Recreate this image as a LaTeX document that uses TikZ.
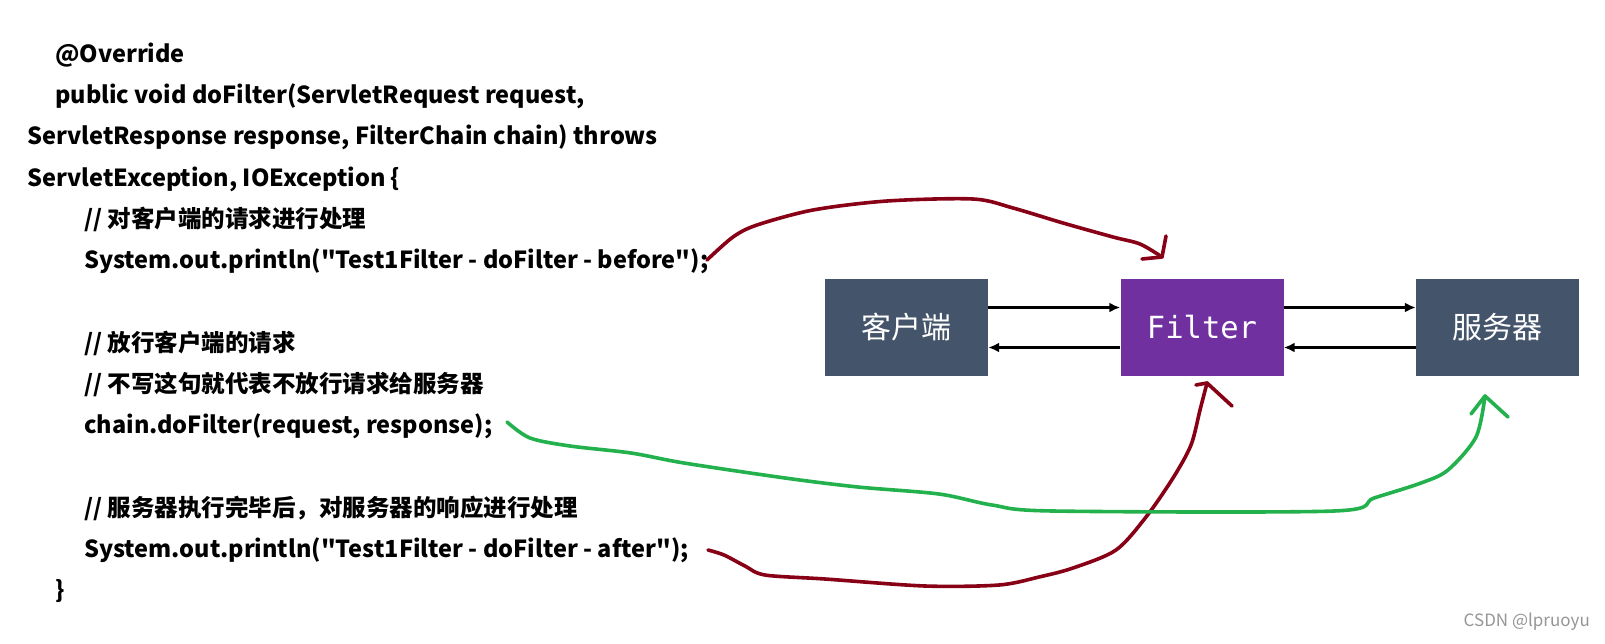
\documentclass[tikz,border=0pt]{standalone}
\usepackage{fontspec}
\usetikzlibrary{arrows.meta}
\newfontfamily\codefont{Noto Sans CJK SC}
\newfontfamily\labelfont{Noto Sans CJK SC}
\newfontfamily\filtermono{DejaVu Sans Mono}
\definecolor{slate}{RGB}{68,84,106}
\definecolor{fpurple}{RGB}{112,48,160}
\definecolor{pred}{RGB}{136,0,21}
\definecolor{pgreen}{RGB}{34,177,76}
\definecolor{wmgray}{RGB}{150,150,150}
\begin{document}
\begin{tikzpicture}[x=1pt,y=-1pt,
  code/.style={anchor=base west,inner sep=0pt,font=\codefont\bfseries\fontsize{23.5}{28}\selectfont},
  box/.style={minimum width=163pt,minimum height=97pt,inner sep=0pt,text=white,draw=none},
  conn/.style={draw=black,line width=2.5pt,-{Latex[length=11pt,width=10pt]}},
  redpen/.style={draw=pred,line width=3.6pt,line cap=round,line join=round},
  greenpen/.style={draw=pgreen,line width=3.6pt,line cap=round,line join=round}]
\useasboundingbox (0,0) rectangle (1605,643);
\fill[white] (0,0) rectangle (1605,643);
% code text
\node[code] (l1) at (55,62) {@Override};
\node[code] (l2) at (55,103) {public void doFilter(ServletRequest request,};
\node[code] (l3) at (27,144) {ServletResponse response, FilterChain chain) throws};
\node[code] (l4) at (27,186) {ServletException, IOException \{};
\node[code] (l5) at (84,227) {// 对客户端的请求进行处理};
\node[code] (l6) at (84,268) {System.out.println("Test1Filter - doFilter - before");};
\node[code] (l7) at (84,351) {// 放行客户端的请求};
\node[code] (l8) at (84,392) {// 不写这句就代表不放行请求给服务器};
\node[code] (l9) at (84,433) {chain.doFilter(request, response);};
\node[code] (l10) at (84,516) {// 服务器执行完毕后，对服务器的响应进行处理};
\node[code] (l11) at (84,557) {System.out.println("Test1Filter - doFilter - after");};
\node[code] (l12) at (55,598) {\}};
% boxes
\node[box,fill=slate,font=\labelfont\fontsize{30}{36}\selectfont] (client) at (906.5,327.5) {客户端};
\node[box,fill=fpurple,font=\filtermono\fontsize{30.5}{36}\selectfont] (filter) at (1202,327.5) {Filter};
\node[box,fill=slate,font=\labelfont\fontsize{30}{36}\selectfont] (server) at (1497.5,327.5) {服务器};
% connectors
\draw[conn] ([yshift=20pt]client.east) -- ([yshift=20pt]filter.west);
\draw[conn] ([yshift=-20pt]filter.west) -- ([yshift=-20pt]client.east);
\draw[conn] ([yshift=20pt]filter.east) -- ([yshift=20pt]server.west);
\draw[conn] ([yshift=-20pt]server.west) -- ([yshift=-20pt]filter.east);
% hand-drawn arrows
\coordinate (r1s) at (707,260);
\coordinate (r1t) at (1162,257);
\draw[redpen] plot[smooth,tension=0.5] coordinates {(r1s) (733,237) (757,225) (813,210) (887,201) (973,199) (1013,208) (1063,223) (1113,237) (1140,244) (r1t)};
\draw[redpen] (1166,236) -- (r1t) -- (1142,259);
\coordinate (r2s) at (708,550);
\coordinate (r2t) at (1207,383);
\draw[redpen] plot[smooth,tension=0.5] coordinates {(r2s) (724,555) (745,566) (765,575) (825,579) (925,586) (999,585) (1039,577) (1073,568) (1116,550) (1146,517) (1173,478) (1191,445) (1200,410) (r2t)};
\draw[redpen] (1196,385) -- (r2t) -- (1232,406);
\coordinate (gs) at (507,422);
\coordinate (gt) at (1485,396);
\draw[greenpen] plot[smooth,tension=0.5] coordinates {(gs) (530,438) (570,446) (631,453) (684,463) (785,478) (858,487) (939,494) (992,505) (1053,511) (1334,511) (1374,498) (1421,483) (1448,470) (1476,437) (gt)};
\draw[greenpen] (1471,414) -- (gt) -- (1508,417);
% watermark text
\node[anchor=base east,inner sep=0pt,text=wmgray,font=\labelfont\fontsize{17}{20}\selectfont] (wm) at (1590,626) {CSDN @lpruoyu};
\end{tikzpicture}
\end{document}
